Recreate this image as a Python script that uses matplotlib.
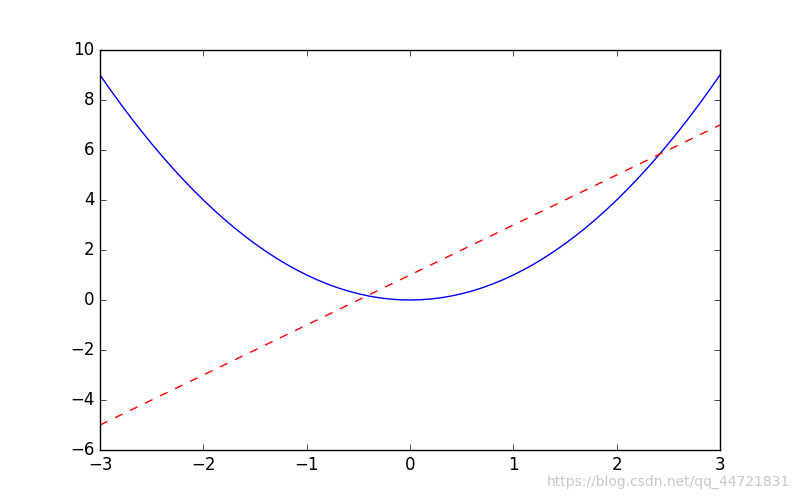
import matplotlib
matplotlib.use('Agg')
import matplotlib.pyplot as plt

# parabola samples (x step 0.1)
curve_x = [-3.0, -2.9, -2.8, -2.7, -2.6, -2.5, -2.4, -2.3, -2.2, -2.1,
           -2.0, -1.9, -1.8, -1.7, -1.6, -1.5, -1.4, -1.3, -1.2, -1.1,
           -1.0, -0.9, -0.8, -0.7, -0.6, -0.5, -0.4, -0.3, -0.2, -0.1,
           0.0, 0.1, 0.2, 0.3, 0.4, 0.5, 0.6, 0.7, 0.8, 0.9,
           1.0, 1.1, 1.2, 1.3, 1.4, 1.5, 1.6, 1.7, 1.8, 1.9,
           2.0, 2.1, 2.2, 2.3, 2.4, 2.5, 2.6, 2.7, 2.8, 2.9, 3.0]
curve_y = [9.0, 8.41, 7.84, 7.29, 6.76, 6.25, 5.76, 5.29, 4.84, 4.41,
           4.0, 3.61, 3.24, 2.89, 2.56, 2.25, 1.96, 1.69, 1.44, 1.21,
           1.0, 0.81, 0.64, 0.49, 0.36, 0.25, 0.16, 0.09, 0.04, 0.01,
           0.0, 0.01, 0.04, 0.09, 0.16, 0.25, 0.36, 0.49, 0.64, 0.81,
           1.0, 1.21, 1.44, 1.69, 1.96, 2.25, 2.56, 2.89, 3.24, 3.61,
           4.0, 4.41, 4.84, 5.29, 5.76, 6.25, 6.76, 7.29, 7.84, 8.41, 9.0]

# straight dashed line end points
line_x = [-3, 3]
line_y = [-5, 7]

plt.style.use('classic')
fig = plt.figure(figsize=(8, 5), dpi=100, facecolor='white')
ax = fig.add_subplot(111)

ax.plot(curve_x, curve_y, color='blue', linewidth=1)
ax.plot(line_x, line_y, color='red', linestyle='--', linewidth=1)

ax.set_xlim(-3, 3)
ax.set_ylim(-6, 10)

# blog watermark, bottom right
fig.text(0.988, 0.022, 'https://blog.csdn.net/qq_44721831', ha='right', va='bottom',
         fontsize=10, color='#c8c8c8')

fig.savefig('out.png', dpi=100, facecolor='white')
